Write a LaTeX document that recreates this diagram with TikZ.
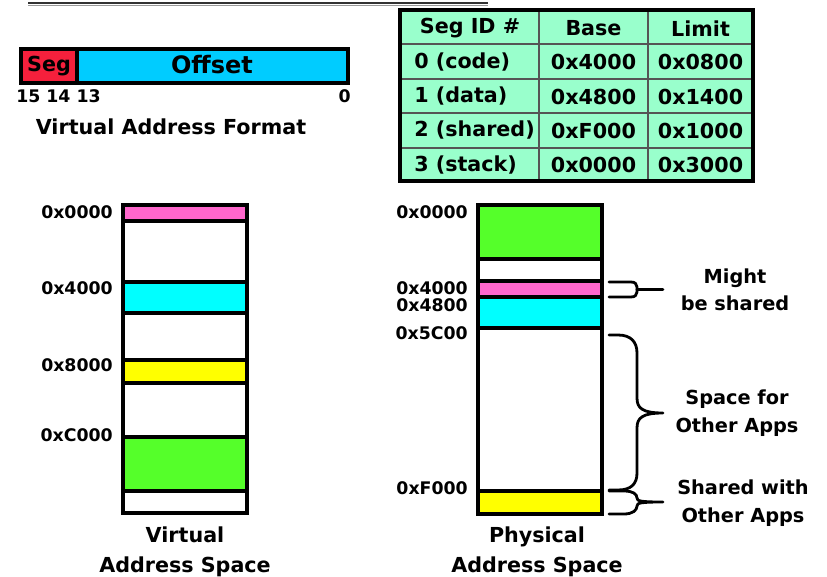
\documentclass[tikz,border=0pt]{standalone}
\usepackage{fontspec}
\setmainfont{DejaVu Sans}
\usepackage{tikz}
\usetikzlibrary{positioning,calc}
\definecolor{segred}{HTML}{F5203C}
\definecolor{offblue}{HTML}{00CCFF}
\definecolor{mpink}{HTML}{FF66CC}
\definecolor{mcyan}{HTML}{00FFFF}
\definecolor{myellow}{HTML}{FFFF00}
\definecolor{mgreen}{HTML}{55FF2A}
\definecolor{tabfill}{HTML}{99FFCC}
\definecolor{tabline}{HTML}{555555}
\newcommand\capfont{\fontsize{15.5pt}{22.5pt}\selectfont\bfseries}
\newcommand\addrfont{\fontsize{13pt}{15pt}\selectfont\bfseries}
\newcommand\notefont{\fontsize{14.5pt}{20.5pt}\selectfont\bfseries}
\tikzset{memseg/.style={draw=black, line width=2.4pt}}
\tikzset{brace/.style={draw=black, line width=2.1pt, line cap=round, line join=round}}
\tikzset{addrlabel/.style={font=\addrfont, anchor=east, inner sep=0pt}}
\tikzset{celltext/.style={font=\capfont, inner sep=0pt}}
\tikzset{caption/.style={font=\capfont, align=center, inner sep=0pt}}
\tikzset{note/.style={font=\notefont, align=center, inner sep=0pt}}
\begin{document}
\begin{tikzpicture}[x=0.75pt, y=-0.75pt]
  \useasboundingbox (0,0) rectangle (827,577);
  % title rule
  \draw[black!80, line width=1.5pt] (28,3.2) -- (488,3.2);
  \draw[black!40, line width=1pt] (28,5.8) -- (488,5.8);

  % virtual address format
  \draw[memseg, fill=segred] (21,49) rectangle (77,83);
  \draw[memseg, fill=offblue] (77,49) rectangle (348,83);
  \node[celltext] (seg) at (49,66) {Seg};
  \node[celltext, font=\fontsize{18pt}{20pt}\selectfont\bfseries] (offset) at (212,65) {Offset};
  \node[addrlabel, anchor=west] (bitshi) at (16,96) {15 14 13};
  \node[addrlabel] (bitslo) at (351,96) {0};
  \node[caption] (vaformat) at (171,127) {Virtual Address Format};

  % segment table
  \fill[tabfill] (400,10) rectangle (753,181);
  \foreach \yy in {44,79,113,148}
    \draw[tabline, line width=1pt] (400,\yy) -- (753,\yy);
  \foreach \xx in {539,648}
    \draw[tabline, line width=1pt] (\xx,10) -- (\xx,181);
  \draw[black, line width=2.4pt] (400,10) rectangle (753,181);
  \node[celltext] (hid) at (470,28.5) {Seg ID \#};
  \node[celltext] (hbase) at (593.5,28.5) {Base};
  \node[celltext] (hlimit) at (700.5,28.5) {Limit};
  \foreach \yy/\sid/\sbase/\slimit [count=\i] in {62/0 (code)/0x4000/0x0800, 96.5/1 (data)/0x4800/0x1400, 130.5/2 (shared)/0xF000/0x1000, 165/3 (stack)/0x0000/0x3000} {
    \node[celltext, anchor=west] (id\i) at (414,\yy) {\sid};
    \node[celltext] (base\i) at (593.5,\yy) {\sbase};
    \node[celltext] (limit\i) at (700.5,\yy) {\slimit};
  }

  % virtual address space
  \foreach \ya/\yb/\col in {205/221/mpink, 221/282/white, 282/313/mcyan, 313/360/white, 360/383/myellow, 383/437/white, 437/491/mgreen, 491/513/white}
    \draw[memseg, fill=\col] (123,\ya) rectangle (247,\yb);
  \node[addrlabel] (v0000) at (113,212) {0x0000};
  \node[addrlabel] (v4000) at (113,288) {0x4000};
  \node[addrlabel] (v8000) at (113,365) {0x8000};
  \node[addrlabel] (vc000) at (113,435) {0xC000};
  \node[caption] (vspace) at (185,552) {Virtual\\Address Space};

  % physical address space
  \foreach \ya/\yb/\col in {205/259/mgreen, 259/281/white, 281/297/mpink, 297/328/mcyan, 328/491/white, 491/514/myellow}
    \draw[memseg, fill=\col] (478,\ya) rectangle (602,\yb);
  \node[addrlabel] (p0000) at (468,212) {0x0000};
  \node[addrlabel] (p4000) at (468,288) {0x4000};
  \node[addrlabel] (p4800) at (468,305) {0x4800};
  \node[addrlabel] (p5c00) at (468,333) {0x5C00};
  \node[addrlabel] (pf000) at (468,488) {0xF000};
  \node[caption] (pspace) at (537,552) {Physical\\Address Space};

  % notes and braces
  \node[note] (mightshare) at (735,290) {Might\\be shared};
  \node[note] (otherapps) at (737,413) {Space for\\Other Apps};
  \node[note] (sharedwith) at (743,503) {Shared with\\Other Apps};

  \draw[brace] (609,282) -- (631,282) .. controls (635,282) and (637,284) .. (637,287)
    -- (637,292) .. controls (637,295) and (635,297) .. (631,297) -- (609,297);
  \draw[brace] (637,289.5) -- (663,289.5);

  \draw[brace] (609,335) -- (618,335) .. controls (631,335) and (637,342) .. (637,353)
    -- (637,398) .. controls (637,408) and (642,413) .. (663,413)
    .. controls (642,413) and (637,418) .. (637,428)
    -- (637,473) .. controls (637,484) and (631,490) .. (618,490) -- (609,490);

  \draw[brace] (609,491) -- (624,491) .. controls (633,491) and (637,494) .. (637,498)
    .. controls (637,501) and (640,502) .. (663,502)
    .. controls (640,502) and (637,503) .. (637,506)
    .. controls (637,510) and (633,514) .. (624,514) -- (609,514);
\end{tikzpicture}
\end{document}
